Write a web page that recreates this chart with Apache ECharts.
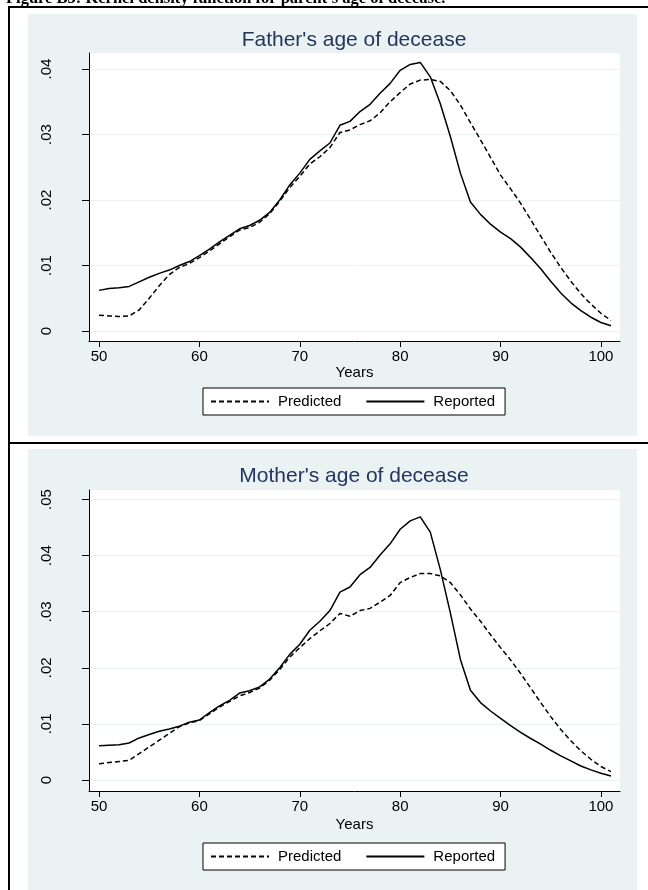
<!DOCTYPE html>
<html>
<head>
<meta charset="utf-8">
<script src="https://cdn.jsdelivr.net/npm/echarts@6/dist/echarts.min.js"></script>
<style>
  html, body { margin: 0; padding: 0; background: #fff; }
  #chart { width: 648px; height: 890px; }
</style>
</head>
<body>
<div id="chart"></div>
<script>
// ages at which the densities were read
const years = [50, 51, 52, 53, 54, 55, 56, 57, 58, 59, 60, 61, 62, 63, 64, 65, 66, 67, 68, 69, 70,
  71, 72, 73, 74, 75, 76, 77, 78, 79, 80, 81, 82, 83, 84, 85, 86, 87, 88, 89, 90,
  91, 92, 93, 94, 95, 96, 97, 98, 99, 100, 101]

// father
const fatherPredicted = [.0024, .0023, .0022, .0023, .0032, .0050, .0069, .0086, .0097, .0103, .0112,
  .0122, .0133, .0144, .0154, .0158, .0166, .0179, .0198, .0219, .0236,
  .0255, .0266, .0280, .0303, .0307, .0315, .0321, .0333, .0350, .0364,
  .0377, .0383, .0384, .0381, .0367, .0345, .0318, .0292, .0265, .0238,
  .0217, .0195, .0170, .0145, .0120, .0097, .0076, .0057, .0041, .0027, .0016]
const fatherReported = [.0062, .0065, .0066, .0068, .0075, .0082, .0088, .0093, .0100, .0106, .0115,
  .0125, .0136, .0146, .0156, .0161, .0169, .0181, .0200, .0223, .0241,
  .0262, .0275, .0287, .0314, .0320, .0335, .0346, .0363, .0378, .0398,
  .0407, .0410, .0388, .0347, .0297, .0241, .0197, .0178, .0163, .0151,
  .0141, .0128, .0112, .0095, .0076, .0058, .0043, .0031, .0021, .0013, .0008]

// mother
const motherPredicted = [.0029, .0031, .0033, .0035, .0047, .0059, .0071, .0083, .0095, .0102, .0106,
  .0118, .0130, .0140, .0150, .0156, .0164, .0178, .0197, .0219, .0236,
  .0252, .0266, .0279, .0297, .0292, .0302, .0306, .0317, .0329, .0352,
  .0361, .0368, .0368, .0364, .0352, .0330, .0305, .0283, .0259, .0236,
  .0214, .0190, .0164, .0138, .0113, .0090, .0070, .0052, .0037, .0024, .0015]
const motherReported = [.0061, .0062, .0063, .0066, .0075, .0081, .0087, .0091, .0096, .0103, .0107,
  .0120, .0132, .0142, .0155, .0159, .0166, .0180, .0200, .0224, .0242,
  .0267, .0283, .0302, .0335, .0344, .0366, .0379, .0401, .0421, .0447,
  .0462, .0469, .0442, .0375, .0298, .0215, .0160, .0138, .0123, .0110,
  .0097, .0085, .0074, .0064, .0053, .0043, .0034, .0025, .0018, .0012, .0007]

const xTicks = [50, 60, 70, 80, 90, 100]
const fatherYTicks = [0, .01, .02, .03, .04]
const motherYTicks = [0, .01, .02, .03, .04, .05]

const titles = ["Father's age of decease", "Mother's age of decease"]
const seriesNames = ['Predicted', 'Reported']
const caption = "Figure B5: Kernel density function for parent's age of decease."

const FONT = '"Liberation Sans", Arial, sans-serif'
const PANEL = '#eaf2f3'

const pairs = (ys) => years.map((x, i) => [x, ys[i]])

const makeX = (gridIndex) => ({
  type: 'value',
  gridIndex,
  min: 49,
  max: 101.9,
  name: 'Years',
  nameLocation: 'middle',
  nameGap: gridIndex === 0 ? 24 : 26,
  nameTextStyle: { fontFamily: FONT, fontSize: 15, color: '#000' },
  axisLine: { onZero: false, lineStyle: { color: '#000', width: 1 } },
  axisTick: { customValues: xTicks, length: 6, lineStyle: { color: '#000' } },
  axisLabel: { customValues: xTicks, margin: 8, fontFamily: FONT, fontSize: 15, color: '#000' },
  splitLine: { show: false }
})

const makeY = (gridIndex, min, max, ticks) => ({
  type: 'value',
  gridIndex,
  min,
  max,
  axisLine: { show: true, onZero: false, lineStyle: { color: '#000', width: 1 } },
  axisTick: { show: true, customValues: ticks, length: 7, lineStyle: { color: '#000' } },
  axisLabel: {
    customValues: ticks,
    rotate: 90,
    margin: 35,
    fontFamily: FONT,
    fontSize: 15,
    color: '#000',
    formatter: (v) => (v === 0 ? '0' : v.toFixed(2).replace(/^0/, ''))
  },
  splitLine: { show: true, lineStyle: { color: PANEL, width: 1 } }
})

const makeSeries = (name, data, idx, dashed) => ({
  name,
  type: 'line',
  xAxisIndex: idx,
  yAxisIndex: idx,
  data,
  showSymbol: false,
  symbol: 'none',
  smooth: false,
  animation: false,
  itemStyle: { color: '#000', opacity: 0 },
  lineStyle: { color: '#000', width: 1.5, type: dashed ? [5, 3] : 'solid' }
})

const makeLegend = (top) => ({
  data: seriesNames,
  left: 203,
  top,
  orient: 'horizontal',
  itemWidth: 58,
  itemHeight: 12,
  itemGap: 24,
  padding: [6, 10, 6, 7],
  borderColor: '#000',
  borderWidth: 1,
  backgroundColor: '#fff',
  selectedMode: false,
  itemStyle: { opacity: 0 },
  textStyle: { fontFamily: FONT, fontSize: 15, color: '#000', padding: [0, 0, 0, 4] }
})

const chart = echarts.init(document.getElementById('chart'))

chart.setOption({
  backgroundColor: '#fff',
  animation: false,
  grid: [
    { left: 89, right: 28, top: 53, height: 288, show: true, backgroundColor: '#fff', borderWidth: 0 },
    { left: 89, right: 28, top: 490, height: 301, show: true, backgroundColor: '#fff', borderWidth: 0 }
  ],
  xAxis: [makeX(0), makeX(1)],
  yAxis: [
    makeY(0, -0.00153, 0.04244, fatherYTicks),
    makeY(1, -0.00196, 0.0517, motherYTicks)
  ],
  legend: [makeLegend(388), makeLegend(843)],
  series: [
    makeSeries(seriesNames[0], pairs(fatherPredicted), 0, true),
    makeSeries(seriesNames[1], pairs(fatherReported), 0, false),
    makeSeries(seriesNames[0], pairs(motherPredicted), 1, true),
    makeSeries(seriesNames[1], pairs(motherReported), 1, false)
  ],
  graphic: [
    // panels and frame
    { type: 'rect', z: -100, shape: { x: 28, y: 14, width: 609, height: 422 }, style: { fill: PANEL } },
    { type: 'rect', z: -100, shape: { x: 28, y: 449, width: 609, height: 441 }, style: { fill: PANEL } },
    { type: 'rect', z: -90, shape: { x: 8, y: 6, width: 640, height: 2 }, style: { fill: '#000' } },
    { type: 'rect', z: -90, shape: { x: 8, y: 6, width: 2, height: 884 }, style: { fill: '#000' } },
    { type: 'rect', z: -90, shape: { x: 8, y: 442, width: 640, height: 2 }, style: { fill: '#000' } },
    {
      type: 'text', x: 6, y: -1,
      style: { text: caption, fontFamily: '"Liberation Serif", "Times New Roman", serif', fontWeight: 'bold', fontSize: 16.5, fill: '#000', textVerticalAlign: 'middle' }
    },
    {
      type: 'text', x: 354, y: 40,
      style: { text: titles[0], fontFamily: FONT, fontSize: 21, fill: '#24365e', textAlign: 'center', textVerticalAlign: 'middle' }
    },
    {
      type: 'text', x: 354, y: 476,
      style: { text: titles[1], fontFamily: FONT, fontSize: 21, fill: '#24365e', textAlign: 'center', textVerticalAlign: 'middle' }
    }
  ]
})
</script>
</body>
</html>
